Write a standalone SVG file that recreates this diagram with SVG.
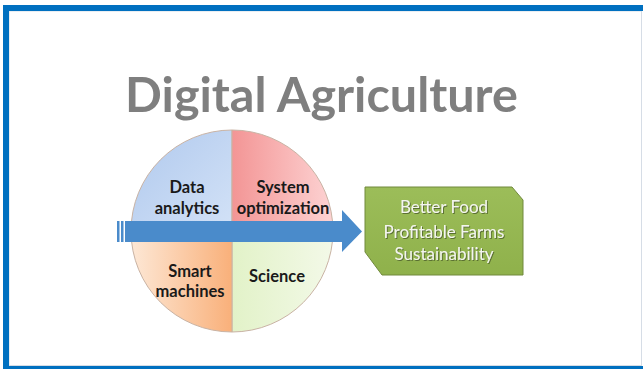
<svg xmlns="http://www.w3.org/2000/svg" width="643" height="369" viewBox="0 0 643 369">
  <defs>
    <linearGradient id="gBlue" gradientUnits="userSpaceOnUse" x1="140" y1="140" x2="232" y2="231">
      <stop offset="0" stop-color="#b3cbee"/>
      <stop offset="1" stop-color="#d3e2f7"/>
    </linearGradient>
    <linearGradient id="gRed" gradientUnits="userSpaceOnUse" x1="232" y1="0" x2="333" y2="0">
      <stop offset="0" stop-color="#f39595"/>
      <stop offset="1" stop-color="#fdd3d3"/>
    </linearGradient>
    <linearGradient id="gOrange" gradientUnits="userSpaceOnUse" x1="131" y1="0" x2="232" y2="0">
      <stop offset="0" stop-color="#fde8d6"/>
      <stop offset="1" stop-color="#f9b07a"/>
    </linearGradient>
    <linearGradient id="gGreen" gradientUnits="userSpaceOnUse" x1="232" y1="0" x2="333" y2="0">
      <stop offset="0" stop-color="#e2f2c8"/>
      <stop offset="1" stop-color="#f3f9e8"/>
    </linearGradient>
    <linearGradient id="gBox" x1="0" y1="0" x2="0" y2="1">
      <stop offset="0" stop-color="#9cbd59"/>
      <stop offset="1" stop-color="#8fb14b"/>
    </linearGradient>
    <filter id="shadow" x="-10%" y="-20%" width="120%" height="140%">
      <feDropShadow dx="1" dy="1" stdDeviation="0.6" flood-color="#4d5e2a" flood-opacity="0.8"/>
    </filter>
  </defs>
  <style>
    .title { font-family: Lato, "Open Sans", sans-serif; font-weight: bold; font-size: 48.5px; fill: #7f7f7f; }
    .quad { font-family: Lato, "Open Sans", sans-serif; font-weight: bold; font-size: 16.5px; fill: #1a1a1a; }
    .box { font-family: Lato, "Open Sans", sans-serif; font-size: 17px; fill: #f4f6ee; }
    .seg { stroke: #c9b3a4; stroke-width: 1; }
  </style>

  <!-- page frame -->
  <rect x="0" y="0" width="643" height="369" fill="#ffffff"/>
  <rect x="9" y="11" width="632.5" height="354.5" fill="none" stroke="#d6dde6" stroke-width="1"/>
  <rect x="3" y="5" width="640" height="6" fill="#0070c0"/>
  <rect x="3" y="5" width="6" height="364" fill="#0070c0"/>
  <rect x="3" y="366" width="640" height="3" fill="#0070c0"/>

  <!-- heading -->
  <text class="title" x="321.5" y="112" text-anchor="middle">Digital Agriculture</text>

  <!-- four-quadrant circle -->
  <g id="circle">
    <g id="quad-data">
      <path class="seg" d="M232,231 L131,231 A101,101 0 0 1 232,130 Z" fill="url(#gBlue)"/>
      <text class="quad" text-anchor="middle"><tspan x="187" y="193">Data</tspan><tspan x="187" y="214">analytics</tspan></text>
    </g>
    <g id="quad-system">
      <path class="seg" d="M232,231 L232,130 A101,101 0 0 1 333,231 Z" fill="url(#gRed)"/>
      <text class="quad" text-anchor="middle"><tspan x="283" y="193">System</tspan><tspan x="283" y="214">optimization</tspan></text>
    </g>
    <g id="quad-science">
      <path class="seg" d="M232,231 L333,231 A101,101 0 0 1 232,332 Z" fill="url(#gGreen)"/>
      <text class="quad" x="277" y="282" text-anchor="middle">Science</text>
    </g>
    <g id="quad-machines">
      <path class="seg" d="M232,231 L232,332 A101,101 0 0 1 131,231 Z" fill="url(#gOrange)"/>
      <text class="quad" text-anchor="middle"><tspan x="190" y="277">Smart</tspan><tspan x="190" y="297">machines</tspan></text>
    </g>
  </g>

  <!-- striped arrow through the circle -->
  <g id="connectors">
    <rect x="117" y="221" width="2.5" height="21" fill="#4a8bcb"/>
    <rect x="121" y="221" width="2.5" height="21" fill="#4a8bcb"/>
    <path d="M125,221 L342,221 L342,210 L362,231.5 L342,252 L342,242 L125,242 Z" fill="#4a8bcb"/>
  </g>

  <!-- outcome box -->
  <g id="outcomes">
    <path d="M365,187 L512,187 L523,200 L523,275 L382,275 L365,252 Z" fill="url(#gBox)" stroke="#71893d" stroke-width="1"/>
    <text class="box" text-anchor="middle" filter="url(#shadow)"><tspan x="444" y="213">Better Food</tspan><tspan x="444" y="238">Profitable Farms</tspan><tspan x="444" y="260">Sustainability</tspan></text>
  </g>
</svg>
